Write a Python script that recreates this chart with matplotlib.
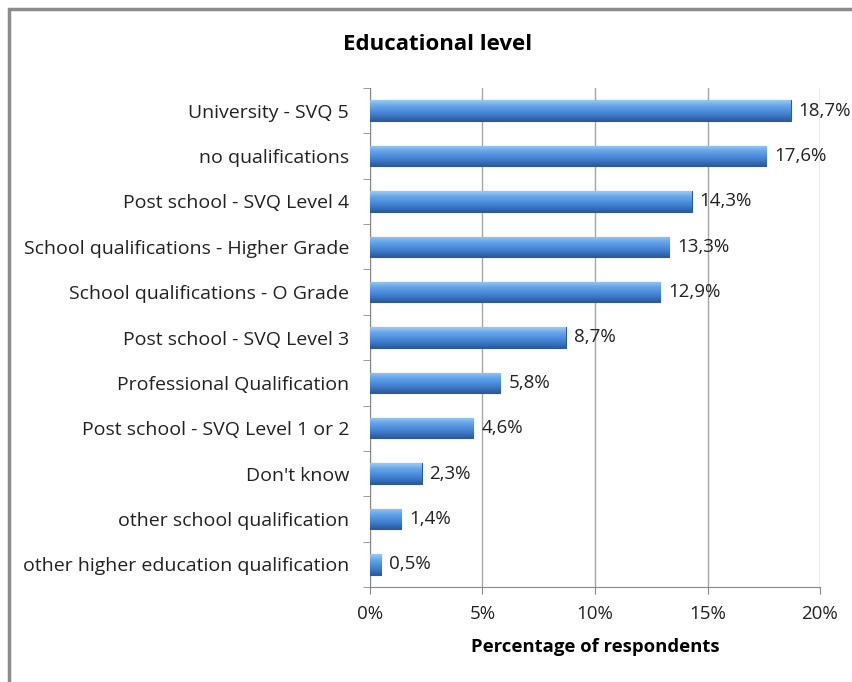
import numpy as np
import matplotlib.pyplot as plt
from matplotlib.patches import Rectangle
from matplotlib.colors import LinearSegmentedColormap

plt.rcParams['font.family'] = ['Open Sans', 'DejaVu Sans']

categories = ["University - SVQ 5", "no qualifications", "Post school - SVQ Level 4",
              "School qualifications - Higher Grade", "School qualifications - O Grade",
              "Post school - SVQ Level 3", "Professional Qualification",
              "Post school - SVQ Level 1 or 2", "Don't know",
              "other school qualification", "other higher education qualification"]
values = [18.7, 17.6, 14.3, 13.3, 12.9, 8.7, 5.8, 4.6, 2.3, 1.4, 0.5]
xticks = [0, 5, 10, 15, 20]

fig = plt.figure(figsize=(8.53, 6.82), dpi=100)
ax = fig.add_axes([370/853, 1-587/682, 450/853, 499/682])

# outer chart border (cut off at right/bottom like the original)
fig.patches.append(Rectangle((9/853, -0.1), 1.2, 1.1 - 9/682, transform=fig.transFigure,
                             fill=False, edgecolor='#8c8c8c', lw=2.5))

y = np.arange(len(categories))[::-1]
h = 0.45
bars = ax.barh(y, values, height=h, color='#4a8ad4', edgecolor='#2b5a94', lw=0.8, zorder=3)

cmap = LinearSegmentedColormap.from_list('bev', ['#9ccaf5', '#6aa8ea', '#4f90de', '#3c78c6', '#2a5a9c'])
grad = np.linspace(0, 1, 64).reshape(-1, 1)
for b, yy, v in zip(bars, y, values):
    im = ax.imshow(grad, extent=(0, v, yy - h/2, yy + h/2), aspect='auto', cmap=cmap,
                   origin='upper', zorder=3.5, interpolation='bicubic')
    im.set_clip_path(b)
    ax.text(v + 0.35, yy, f"{v:.1f}%".replace('.', ','), va='center', ha='left',
            fontsize=13.5, color='#222222', zorder=5)

ax.set_xlim(0, 20)
ax.set_ylim(-0.5, len(categories) - 0.5)
ax.set_xticks(xticks)
ax.set_xticklabels([f"{t}%" for t in xticks], fontsize=13.5, color='#222222')
ax.set_yticks(y)
ax.set_yticklabels(categories, fontsize=14, color='#222222')
ax.set_yticks(np.arange(len(categories) + 1) - 0.5, minor=True)
ax.tick_params(axis='y', which='major', length=0, pad=15)
ax.tick_params(axis='y', which='minor', length=5, color='#888888')
ax.tick_params(axis='x', length=5, color='#888888', pad=8)

ax.grid(axis='x', color='#a6a6a6', lw=1, zorder=0)
for s in ['top', 'right']:
    ax.spines[s].set_visible(False)
for s in ['left', 'bottom']:
    ax.spines[s].set_color('#888888')

ax.set_xlabel("Percentage of respondents", fontsize=13.3, fontweight='bold', labelpad=11)
fig.text(438/853, 1-44/682, "Educational level", ha='center', va='center',
         fontsize=16, fontweight='bold')

fig.savefig("out.png", dpi=100)
